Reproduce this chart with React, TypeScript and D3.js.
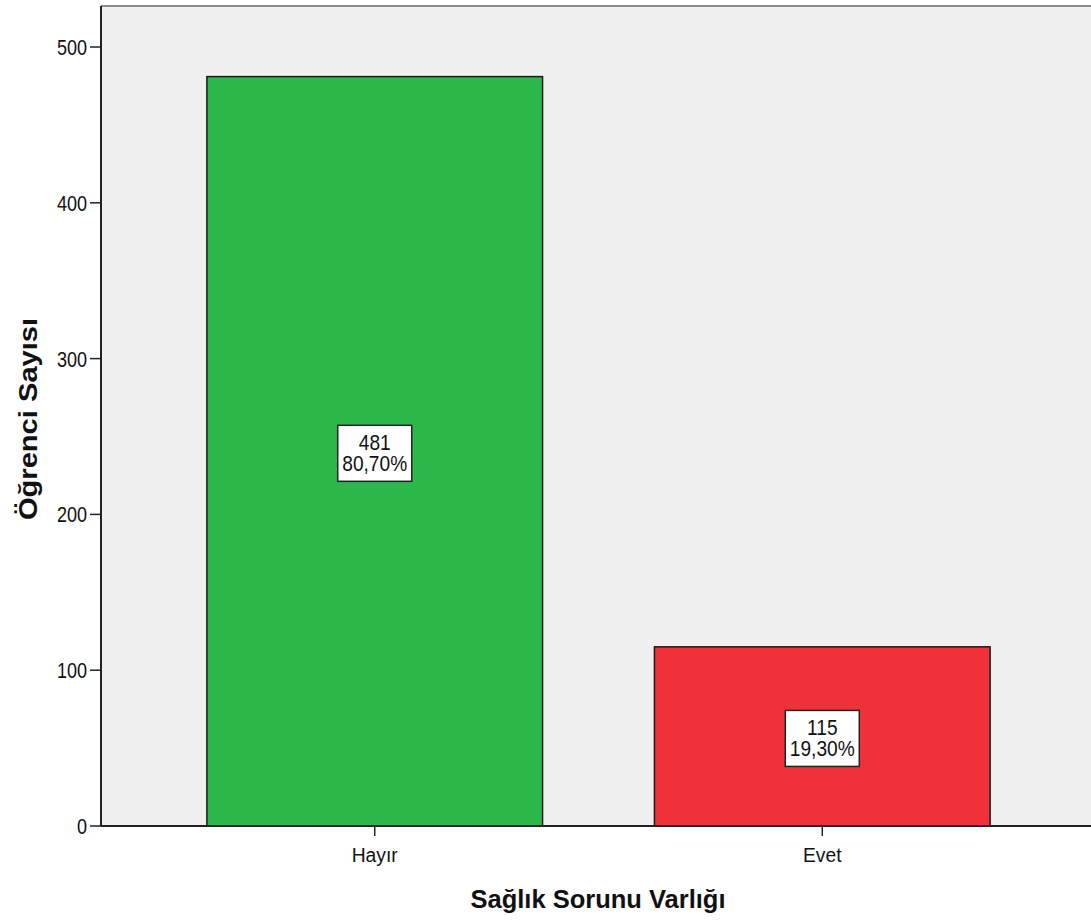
import React from "react";
import * as d3 from "d3";

const categories = ["Hayır", "Evet"];
const counts = [481, 115];
const percents = ["80,70%", "19,30%"];
const yTicks = [0, 100, 200, 300, 400, 500];
const barColors = ["#2DB84B", "#F0313A"];

const W = 1091;
const H = 923;
const FONT = "'Liberation Sans', Arial, sans-serif";

function T(props: {
  x: number;
  y: number;
  anchor?: "start" | "middle" | "end";
  size: number;
  sx?: number;
  bold?: boolean;
  rotate?: number;
  children: React.ReactNode;
}) {
  const { x, y, anchor = "middle", size, sx = 0.82, bold, rotate = 0, children } = props;
  return (
    <text
      transform={`translate(${x},${y}) rotate(${rotate}) scale(${sx},1)`}
      textAnchor={anchor}
      fontFamily={FONT}
      fontSize={size}
      fontWeight={bold ? "bold" : "normal"}
      fill="#111"
    >
      {children}
    </text>
  );
}

export default function App() {
  const left = 101;
  const top = 6;
  const bottom = 826;
  const right = 1091;

  const y = d3.scaleLinear().domain([0, 500]).range([bottom, 47]);
  const xb = d3
    .scaleBand()
    .domain(categories)
    .range([95, 1102])
    .paddingInner(0.25)
    .paddingOuter(0.25);

  return (
    <svg width={W} height={H} style={{ position: "absolute", left: 0, top: 0, background: "#fff" }}>
      <rect x={left} y={top} width={right - left} height={bottom - top} fill="#F0F0F0" />
      <line x1={left} x2={right} y1={top} y2={top} stroke="#8a8a8a" strokeWidth={2} />
      {categories.map((c, i) => {
        const bx = xb(c)!;
        const bw = xb.bandwidth();
        const by = y(counts[i]);
        const cx = bx + bw / 2;
        const cy = (by + bottom) / 2;
        return (
          <g key={c}>
            <rect x={bx} y={by} width={bw} height={bottom - by} fill={barColors[i]} stroke="#1a1a1a" strokeWidth={1.5} />
            <rect x={cx - 37} y={cy - 26} width={74} height={56} fill="#fff" stroke="#222" strokeWidth={1.5} />
            <T x={cx} y={cy - 1} size={22} sx={0.87}>
              {counts[i]}
            </T>
            <T x={cx} y={cy + 20} size={22} sx={0.87}>
              {percents[i]}
            </T>
            <line x1={cx} x2={cx} y1={bottom} y2={bottom + 10} stroke="#222" strokeWidth={1.5} />
            <T x={cx} y={bottom + 36} size={21} sx={0.92}>
              {c}
            </T>
          </g>
        );
      })}
      <line x1={left} x2={left} y1={top} y2={bottom} stroke="#222" strokeWidth={2} />
      <line x1={left} x2={right} y1={bottom} y2={bottom} stroke="#222" strokeWidth={2} />
      {yTicks.map((t) => (
        <g key={t}>
          <line x1={left - 11} x2={left} y1={y(t)} y2={y(t)} stroke="#222" strokeWidth={1.5} />
          <T x={left - 14} y={y(t) + 8} anchor="end" size={22}>
            {t}
          </T>
        </g>
      ))}
      <T x={598} y={908} size={25.5} sx={1} bold>
        Sağlık Sorunu Varlığı
      </T>
      <T x={37} y={419} size={26} sx={1.12} bold rotate={-90}>
        Öğrenci Sayısı
      </T>
    </svg>
  );
}
